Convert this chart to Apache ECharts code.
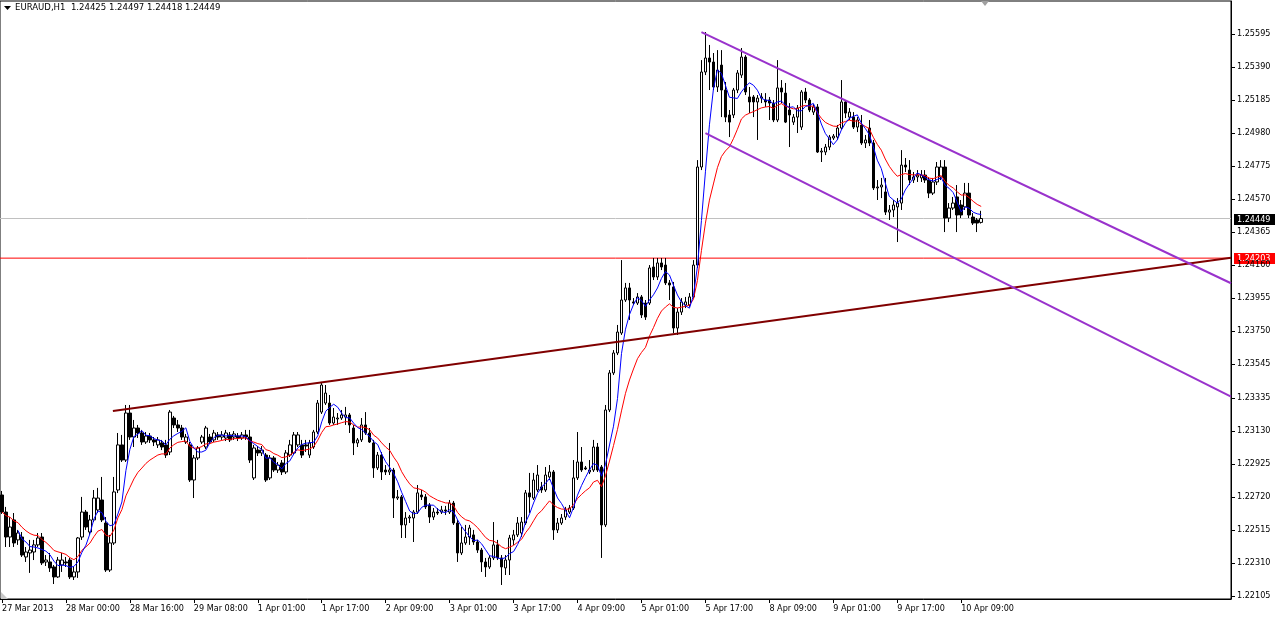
<!DOCTYPE html>
<html><head><meta charset="utf-8">
<script src="https://cdn.jsdelivr.net/npm/echarts@6/dist/echarts.min.js"></script>
<style>html,body{margin:0;padding:0;background:#fff;overflow:hidden}#c{width:1275px;height:617px}</style>
</head><body><div id="c"></div>
<script>
const symbolName = 'EURAUD,H1';
const tickLabels = ['27 Mar 2013','28 Mar 00:00','28 Mar 16:00','29 Mar 08:00','1 Apr 01:00','1 Apr 17:00','2 Apr 09:00','3 Apr 01:00','3 Apr 17:00','4 Apr 09:00','5 Apr 01:00','5 Apr 17:00','8 Apr 09:00','9 Apr 01:00','9 Apr 17:00','10 Apr 09:00'];
const priceTicks = [1.25595,1.25390,1.25185,1.24980,1.24775,1.24570,1.24365,1.24160,1.23955,1.23750,1.23545,1.23335,1.23130,1.22925,1.22720,1.22515,1.22310,1.22105];

const opens = [1.22732,1.22626,1.22471,1.22577,1.22453,1.22471,1.22347,1.22372,1.22378,1.22422,
1.22471,1.22316,1.22316,1.22285,1.22223,1.22297,1.22316,1.22328,1.22223,1.22254,
1.22471,1.22626,1.22502,1.22577,1.22639,1.22701,1.22558,1.22266,1.22434,1.22763,
1.23043,1.22949,1.23241,1.23092,1.23148,1.23117,1.23061,1.23098,1.23074,1.23043,
1.23055,1.23043,1.22999,1.23210,1.23167,1.23148,1.23061,1.23043,1.22825,1.22962,
1.23061,1.23030,1.23092,1.23074,1.23105,1.23092,1.23086,1.23105,1.23092,1.23098,
1.23086,1.23105,1.23092,1.22838,1.23011,1.22993,1.22980,1.22838,1.22962,1.22887,
1.22931,1.22875,1.22980,1.22993,1.23043,1.23043,1.23043,1.22980,1.23030,1.23123,
1.23247,1.23303,1.23303,1.23179,1.23204,1.23210,1.23216,1.23229,1.23148,1.23055,
1.23074,1.23167,1.23117,1.23055,1.22900,1.22980,1.22887,1.22875,1.22887,1.22713,
1.22720,1.22546,1.22589,1.22589,1.22626,1.22732,1.22720,1.22670,1.22595,1.22626,
1.22626,1.22639,1.22626,1.22682,1.22558,1.22372,1.22434,1.22471,1.22484,1.22440,
1.22390,1.22316,1.22285,1.22341,1.22422,1.22341,1.22279,1.22328,1.22453,1.22484,
1.22496,1.22558,1.22745,1.22713,1.22763,1.22782,1.22763,1.22844,1.22875,1.22515,
1.22558,1.22595,1.22626,1.22651,1.22838,1.22937,1.22900,1.22875,1.22887,1.23030,
1.22906,1.22546,1.23260,1.23490,1.23614,1.23738,1.23943,1.24018,1.23931,1.23924,
1.23962,1.23924,1.23924,1.24148,1.24086,1.24173,1.24160,1.24049,1.24024,1.23769,
1.23868,1.23912,1.23912,1.23962,1.24160,1.24769,1.25359,1.25446,1.25421,1.25266,
1.25402,1.25247,1.25092,1.25092,1.25247,1.25340,1.25452,1.25204,1.25204,1.25173,
1.25197,1.25185,1.25185,1.25166,1.25061,1.25260,1.25228,1.25123,1.25048,1.25079,
1.25017,1.25235,1.25185,1.25110,1.25142,1.24862,1.24862,1.24893,1.24949,1.24955,
1.25011,1.25173,1.25079,1.25079,1.25017,1.25030,1.24918,1.25011,1.24918,1.24639,
1.24645,1.24614,1.24489,1.24502,1.24521,1.24545,1.24781,1.24750,1.24688,1.24707,
1.24701,1.24719,1.24688,1.24607,1.24676,1.24707,1.24769,1.24452,1.24514,1.24583,
1.24533,1.24521,1.24607,1.24458,1.24440,1.24425];
const highs = [1.22757,1.22658,1.22595,1.22620,1.22515,1.22502,1.22409,1.22453,1.22453,1.22496,
1.22496,1.22359,1.22372,1.22297,1.22347,1.22372,1.22347,1.22341,1.22285,1.22471,
1.22720,1.22639,1.22608,1.22763,1.22776,1.22844,1.22595,1.22484,1.22844,1.23117,
1.23105,1.23291,1.23291,1.23198,1.23167,1.23136,1.23123,1.23117,1.23092,1.23092,
1.23074,1.23074,1.23260,1.23223,1.23198,1.23167,1.23111,1.23061,1.22980,1.23036,
1.23105,1.23161,1.23111,1.23136,1.23123,1.23129,1.23136,1.23123,1.23129,1.23117,
1.23123,1.23136,1.23136,1.23043,1.23036,1.23036,1.22993,1.22980,1.22974,1.22937,
1.22949,1.23011,1.23074,1.23123,1.23123,1.23074,1.23074,1.23074,1.23136,1.23322,
1.23434,1.23415,1.23353,1.23272,1.23241,1.23260,1.23279,1.23241,1.23167,1.23086,
1.23210,1.23247,1.23148,1.23074,1.22999,1.22999,1.22918,1.23055,1.22900,1.22763,
1.22732,1.22626,1.22608,1.22639,1.22794,1.22763,1.22738,1.22682,1.22651,1.22651,
1.22664,1.22664,1.22701,1.22695,1.22577,1.22533,1.22546,1.22546,1.22515,1.22453,
1.22403,1.22341,1.22359,1.22564,1.22453,1.22359,1.22359,1.22484,1.22515,1.22595,
1.22595,1.22763,1.22869,1.22869,1.22918,1.22813,1.22906,1.22918,1.22887,1.22589,
1.22614,1.22658,1.22670,1.22949,1.23123,1.23030,1.22912,1.22949,1.23074,1.23055,
1.22918,1.23291,1.23508,1.23632,1.23788,1.24191,1.24049,1.24049,1.23955,1.23986,
1.23974,1.23943,1.24160,1.24204,1.24204,1.24204,1.24204,1.24067,1.24055,1.23893,
1.23955,1.23962,1.23986,1.24191,1.24812,1.25433,1.25607,1.25527,1.25477,1.25495,
1.25495,1.25297,1.25123,1.25260,1.25371,1.25508,1.25464,1.25266,1.25216,1.25216,
1.25228,1.25228,1.25204,1.25185,1.25433,1.25309,1.25291,1.25166,1.25098,1.25154,
1.25247,1.25260,1.25197,1.25160,1.25160,1.24887,1.24912,1.24968,1.24974,1.25030,
1.25309,1.25185,1.25135,1.25110,1.25079,1.25092,1.24968,1.25061,1.24937,1.24688,
1.24701,1.24701,1.24533,1.24564,1.24576,1.24874,1.24825,1.24812,1.24738,1.24750,
1.24750,1.24750,1.24707,1.24701,1.24800,1.24812,1.24812,1.24545,1.24583,1.24657,
1.24564,1.24670,1.24670,1.24483,1.24452,1.24497];
const lows = [1.22614,1.22409,1.22409,1.22409,1.22422,1.22347,1.22316,1.22248,1.22328,1.22409,
1.22297,1.22291,1.22254,1.22179,1.22217,1.22254,1.22285,1.22210,1.22204,1.22217,
1.22453,1.22515,1.22484,1.22564,1.22620,1.22564,1.22254,1.22254,1.22422,1.22744,
1.22937,1.22937,1.23074,1.23030,1.23086,1.23043,1.23049,1.23055,1.23036,1.23024,
1.23011,1.22962,1.22980,1.23148,1.23123,1.23074,1.23049,1.22813,1.22713,1.22949,
1.23049,1.23018,1.23049,1.23061,1.23074,1.23074,1.23067,1.23061,1.23074,1.23067,
1.23074,1.23074,1.22931,1.22825,1.22974,1.22974,1.22813,1.22825,1.22875,1.22869,
1.22856,1.22862,1.22968,1.22980,1.23030,1.22962,1.22999,1.22962,1.23018,1.23111,
1.23235,1.23291,1.23167,1.23167,1.23167,1.23198,1.23167,1.23117,1.22980,1.23030,
1.23061,1.23105,1.23055,1.22838,1.22887,1.22825,1.22856,1.22856,1.22589,1.22701,
1.22465,1.22465,1.22558,1.22440,1.22614,1.22701,1.22645,1.22558,1.22577,1.22608,
1.22614,1.22608,1.22614,1.22546,1.22316,1.22359,1.22422,1.22422,1.22422,1.22372,
1.22254,1.22223,1.22273,1.22328,1.22328,1.22173,1.22235,1.22235,1.22422,1.22471,
1.22471,1.22546,1.22620,1.22701,1.22751,1.22745,1.22751,1.22825,1.22453,1.22496,
1.22546,1.22577,1.22614,1.22639,1.22825,1.22875,1.22887,1.22862,1.22875,1.22875,
1.22341,1.22533,1.23247,1.23477,1.23601,1.23726,1.23931,1.23819,1.23912,1.23912,
1.23831,1.23819,1.23912,1.24067,1.24067,1.24129,1.24036,1.23943,1.23738,1.23726,
1.23850,1.23893,1.23900,1.23955,1.24142,1.24750,1.25340,1.25247,1.25247,1.25235,
1.25079,1.25048,1.24955,1.25073,1.25228,1.25322,1.25216,1.25104,1.25079,1.24937,
1.25166,1.25142,1.25061,1.25048,1.25048,1.25166,1.25042,1.24893,1.25030,1.24980,
1.24999,1.25166,1.25110,1.25092,1.24856,1.24800,1.24843,1.24874,1.24937,1.24937,
1.24999,1.25073,1.25061,1.25005,1.24986,1.24906,1.24887,1.24899,1.24626,1.24564,
1.24576,1.24471,1.24440,1.24458,1.24303,1.24502,1.24738,1.24657,1.24670,1.24676,
1.24676,1.24670,1.24576,1.24595,1.24657,1.24688,1.24365,1.24427,1.24502,1.24365,
1.24452,1.24502,1.24452,1.24409,1.24365,1.24418];
const closes = [1.22626,1.22471,1.22533,1.22434,1.22496,1.22359,1.22378,1.22390,1.22422,1.22465,
1.22310,1.22328,1.22279,1.22223,1.22328,1.22328,1.22310,1.22223,1.22254,1.22465,
1.22626,1.22533,1.22577,1.22713,1.22713,1.22577,1.22266,1.22434,1.22751,1.23043,
1.22949,1.23241,1.23092,1.23148,1.23117,1.23061,1.23098,1.23074,1.23061,1.23074,
1.23030,1.22980,1.23247,1.23167,1.23148,1.23092,1.23092,1.22825,1.22962,1.23024,
1.23092,1.23148,1.23061,1.23117,1.23092,1.23105,1.23117,1.23074,1.23111,1.23086,
1.23105,1.23092,1.22949,1.23024,1.22993,1.23011,1.22825,1.22962,1.22887,1.22918,
1.22875,1.22993,1.23043,1.23105,1.23105,1.22980,1.23036,1.23055,1.23123,1.23303,
1.23415,1.23365,1.23179,1.23216,1.23210,1.23229,1.23229,1.23167,1.23055,1.23074,
1.23167,1.23117,1.23061,1.22900,1.22980,1.22875,1.22875,1.22887,1.22713,1.22720,
1.22546,1.22589,1.22595,1.22626,1.22745,1.22720,1.22658,1.22595,1.22626,1.22620,
1.22639,1.22633,1.22682,1.22558,1.22372,1.22434,1.22471,1.22527,1.22440,1.22390,
1.22316,1.22285,1.22341,1.22422,1.22341,1.22285,1.22328,1.22465,1.22484,1.22558,
1.22564,1.22745,1.22720,1.22825,1.22856,1.22763,1.22856,1.22875,1.22515,1.22558,
1.22589,1.22639,1.22651,1.22838,1.22937,1.22887,1.22894,1.22887,1.23030,1.22887,
1.22546,1.23260,1.23490,1.23614,1.23744,1.23943,1.24018,1.23943,1.23924,1.23962,
1.23850,1.23837,1.24142,1.24086,1.24173,1.24148,1.24049,1.24036,1.23769,1.23868,
1.23931,1.23931,1.23962,1.24160,1.24769,1.25359,1.25446,1.25421,1.25266,1.25371,
1.25247,1.25079,1.25048,1.25247,1.25353,1.25452,1.25235,1.25173,1.25173,1.25197,
1.25204,1.25173,1.25166,1.25061,1.25260,1.25235,1.25048,1.25092,1.25079,1.25135,
1.25235,1.25185,1.25123,1.25142,1.24862,1.24868,1.24893,1.24955,1.24961,1.25011,
1.25173,1.25104,1.25110,1.25017,1.25061,1.24918,1.24937,1.24918,1.24639,1.24645,
1.24657,1.24489,1.24502,1.24533,1.24545,1.24781,1.24769,1.24688,1.24707,1.24719,
1.24719,1.24688,1.24607,1.24676,1.24769,1.24769,1.24452,1.24514,1.24545,1.24471,
1.24471,1.24607,1.24471,1.24421,1.24421,1.24449];

const bidPrice = 1.24449;
const levelPrice = 1.24203;
const brownTrend = [[27.75,1.23254],[307.5,1.24206]];
const purpleUpper = [[175,1.25607],[307.5,1.24047]];
const purpleLower = [[176,1.24980],[307.5,1.23343]];
const fastPeriod = 5;   // simple moving average (blue)
const slowPeriod = 13;  // exponential moving average (red)

const SLOTS = 308;
const categories = [];
for (let i=0;i<SLOTS;i++) categories.push(i%16===0 && i/16 < tickLabels.length ? tickLabels[i/16] : String(i));
function sma(arr, n){ return arr.map((v,i)=>{ if(i<n-1) return '-'; let s=0; for(let k=i-n+1;k<=i;k++) s+=arr[k]; return +(s/n).toFixed(6);}); }
function ema(arr, n){ const a=2/(n+1); let e=arr[0]; return arr.map((v,i)=>{ e = i===0 ? v : e + a*(v-e); return +e.toFixed(6); }); }
const candleData = closes.map((c,i)=>[opens[i],c,lows[i],highs[i]]);
const FONT = "'DejaVu Sans Condensed','DejaVu Sans',sans-serif";
const labelShown = (idx)=> idx%16===0 && idx/16 < tickLabels.length;
const last = closes.length-1;
const titleText = symbolName + '  ' + [opens[last],highs[last],lows[last],closes[last]].map(v=>v.toFixed(5)).join(' ');

const chart = echarts.init(document.getElementById('c'), null, {renderer:'canvas'});
const baseGraphic = [
  {id:'tri',type:'polygon',shape:{points:[[4,6],[11,6],[7.5,10]]},style:{fill:'#000'},z:100},
  {id:'title',type:'text',left:15,top:3,style:{text:titleText,fontSize:9.5,fontFamily:FONT,fill:'#000'},z:100},
  {id:'shift',type:'polygon',shape:{points:[[981,1],[989,1],[985,6]]},style:{fill:'#A0A0A0'},z:100},
  {id:'corner',type:'polygon',shape:{points:[[1,592],[1,599],[8,599]]},style:{fill:'#C8C8C8'},z:100}
];
chart.setOption({
  animation:false,
  backgroundColor:'#fff',
  grid:{left:0,right:44,top:1,bottom:18,show:true,borderColor:'#000',borderWidth:1,containLabel:false,outerBoundsMode:'none'},
  xAxis:[{
    type:'category',data:categories,boundaryGap:true,
    axisLine:{show:true,lineStyle:{color:'#000',width:1}},
    axisTick:{show:true,interval:labelShown,alignWithLabel:true,length:4,lineStyle:{color:'#000'}},
    axisLabel:{show:true,interval:labelShown,align:'left',margin:5,fontSize:9,fontFamily:FONT,color:'#000',
      formatter:(v)=>v},
    splitLine:{show:false}
  },{
    type:'value',min:-0.5,max:SLOTS-0.5,show:false
  }],
  yAxis:[{
    type:'value',position:'right',min:1.22086,max:1.25800,scale:true,
    axisLine:{show:true,onZero:false,lineStyle:{color:'#000'}},
    axisTick:{show:true,customValues:priceTicks,length:4,lineStyle:{color:'#000'}},
    axisLabel:{show:true,customValues:priceTicks,formatter:(v)=>v.toFixed(5),fontSize:9,fontFamily:FONT,color:'#000',margin:6},
    splitLine:{show:false}
  }],
  series:[
    {type:'line',xAxisIndex:1,data:[[-0.5,bidPrice],[SLOTS-0.5,bidPrice]],symbol:'none',silent:true,z:1,
     lineStyle:{color:'#C0C0C0',width:1}},
    {type:'line',xAxisIndex:1,data:[[-0.5,levelPrice],[SLOTS-0.5,levelPrice]],symbol:'none',silent:true,z:1,
     lineStyle:{color:'#FF0000',width:1}},
    {type:'candlestick',data:candleData,barWidth:3,z:2,
     itemStyle:{color:'#FFFFFF',color0:'#000000',borderColor:'#000000',borderColor0:'#000000',borderWidth:1}},
    {type:'line',data:ema(closes,slowPeriod),symbol:'none',silent:true,z:3,lineStyle:{color:'#FF0000',width:1}},
    {type:'line',data:sma(closes,fastPeriod),symbol:'none',silent:true,z:3,lineStyle:{color:'#0000FF',width:1}},
    {type:'line',xAxisIndex:1,data:brownTrend,symbol:'none',silent:true,z:4,lineStyle:{color:'#800000',width:2}},
    {type:'line',xAxisIndex:1,data:purpleUpper,symbol:'none',silent:true,z:4,lineStyle:{color:'#9932CC',width:2}},
    {type:'line',xAxisIndex:1,data:purpleLower,symbol:'none',silent:true,z:4,lineStyle:{color:'#9932CC',width:2}}
  ],
  graphic:baseGraphic
});
// price tags on the right axis, positioned through the y scale
function priceTag(id, price, bg){
  const y = chart.convertToPixel({yAxisIndex:0}, price);
  return {id:id,type:'group',x:1234,y:Math.round(y)-5,z:200,children:[
    {type:'rect',shape:{x:0,y:0,width:41,height:11},style:{fill:bg}},
    {type:'text',x:3,y:1,style:{text:price.toFixed(5),fontSize:9,fontFamily:FONT,fill:'#fff',textVerticalAlign:'top'}}
  ]};
}
chart.setOption({graphic: baseGraphic.concat([priceTag('bidTag',bidPrice,'#000'), priceTag('lvlTag',levelPrice,'#FF0000')])});
</script></body></html>
